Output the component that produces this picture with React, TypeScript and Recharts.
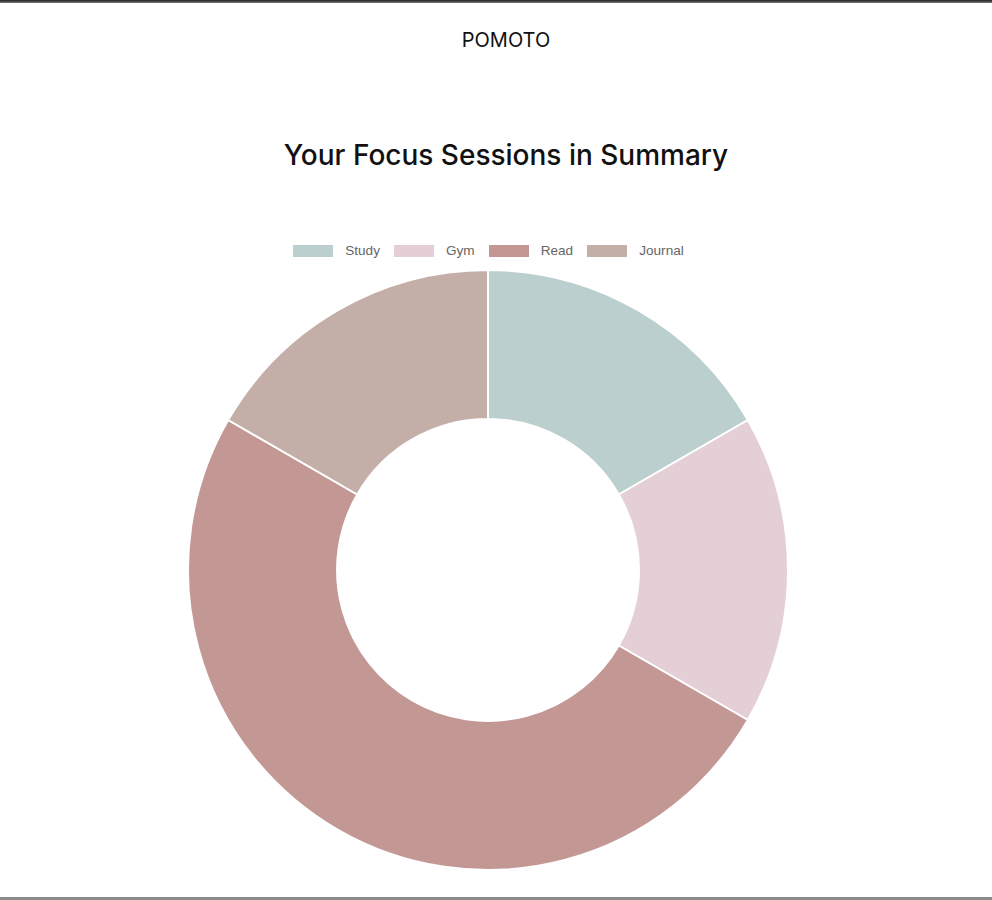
import React from "react";
import { PieChart, Pie, Cell } from "recharts";

const categories = ["Study", "Gym", "Read", "Journal"];
const sessions = [1, 1, 3, 1];
const colors = ["#BBCFCF", "#E4CFD6", "#C29794", "#C4AEA8"];

const data = categories.map((name, i) => ({ name, value: sessions[i] }));

export default function App() {
  return (
    <div style={{ position: "absolute", left: 0, top: 0, width: 992, height: 900, background: "#fff", overflow: "hidden" }}>
      <div style={{ position: "absolute", left: 0, top: 0, width: 992, height: 3, background: "linear-gradient(#222, #777)" }} />
      <div style={{ position: "absolute", left: 0, top: 897, width: 992, height: 3, background: "#8a8a8a" }} />
      <div style={{ position: "absolute", left: 0, top: 28, width: 1012, textAlign: "center", fontFamily: "Inter, 'Open Sans', sans-serif", fontSize: 20, fontWeight: 400, color: "#111" }}>POMOTO</div>
      <div style={{ position: "absolute", left: 0, top: 138, width: 1012, textAlign: "center", fontFamily: "Inter, 'Open Sans', sans-serif", fontSize: 28, fontWeight: 500, color: "#111" }}>Your Focus Sessions in Summary</div>
      <div style={{ position: "absolute", left: 0, top: 243, width: 977, display: "flex", justifyContent: "center", alignItems: "center", fontFamily: "'Liberation Sans', Arial, sans-serif", fontSize: 13.6, color: "#666" }}>
        {categories.map((c, i) => (
          <div key={c} style={{ display: "flex", alignItems: "center", marginLeft: i === 0 ? 0 : 14 }}>
            <span style={{ display: "inline-block", width: 40, height: 12, background: colors[i], marginRight: 12 }} />
            <span>{c}</span>
          </div>
        ))}
      </div>
      <div style={{ position: "absolute", left: 0, top: 0 }}>
        <PieChart width={992} height={900} margin={{ top: 0, right: 0, bottom: 0, left: 0 }}>
          <Pie
            data={data}
            dataKey="value"
            nameKey="name"
            cx={488}
            cy={570}
            innerRadius={151}
            outerRadius={300}
            startAngle={90}
            endAngle={-270}
            stroke="#fff"
            strokeWidth={2}
            isAnimationActive={false}
          >
            {data.map((d, i) => (
              <Cell key={d.name} fill={colors[i]} />
            ))}
          </Pie>
        </PieChart>
      </div>
    </div>
  );
}
